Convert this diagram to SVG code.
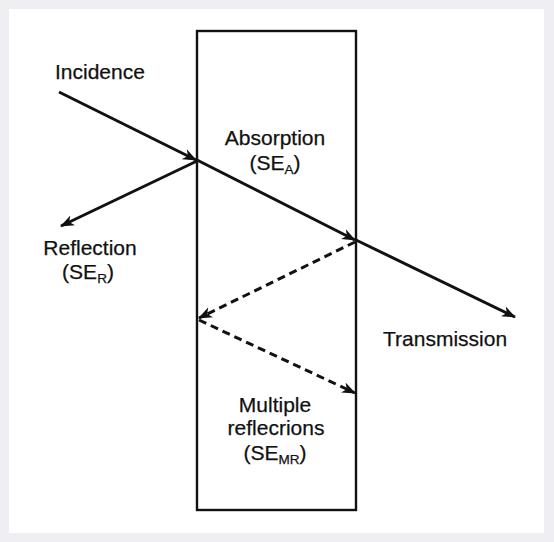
<svg xmlns="http://www.w3.org/2000/svg" width="554" height="542" viewBox="0 0 554 542">
<style>
text{font-family:"Liberation Sans",Arial,sans-serif;font-size:21px;fill:#111;stroke:#111;stroke-width:0.25}
.sub{font-size:13.5px}
.ray{stroke:#111;stroke-width:3;fill:none}
.dash{stroke-dasharray:8 5}
</style>
<defs>
<marker id="ah" viewBox="0 0 14 12" refX="13" refY="6" markerWidth="14" markerHeight="12" markerUnits="userSpaceOnUse" orient="auto">
<path d="M0,0.5 L14,6 L0,11.5 L4,6 z" fill="#111"/>
</marker>
</defs>
<rect x="0" y="0" width="554" height="542" fill="#eeeef3"/>
<rect x="9" y="9" width="535" height="524" fill="#ffffff"/>
<g id="slab"><rect x="197" y="31" width="159" height="479" fill="none" stroke="#111" stroke-width="2.4"/></g>
<g id="connectors">
<line class="ray" x1="59" y1="92" x2="196" y2="160" marker-end="url(#ah)"/>
<line class="ray" x1="197" y1="160" x2="355" y2="240" marker-end="url(#ah)"/>
<line class="ray" x1="356" y1="240" x2="515" y2="317" marker-end="url(#ah)"/>
<line class="ray" x1="197" y1="161" x2="61" y2="226" marker-end="url(#ah)"/>
<line class="ray dash" x1="355" y1="242" x2="199" y2="318" marker-end="url(#ah)"/>
<line class="ray dash" x1="199" y1="320" x2="355" y2="393" marker-end="url(#ah)"/>
</g>
<g id="incidence"><text x="55" y="79">Incidence</text></g>
<g id="absorption"><text x="275" y="145" text-anchor="middle">Absorption</text><text x="275" y="170" text-anchor="middle">(SE<tspan class="sub" dy="4">A</tspan><tspan dy="-4">)</tspan></text></g>
<g id="reflection"><text x="90" y="255" text-anchor="middle">Reflection</text><text x="88" y="279" text-anchor="middle">(SE<tspan class="sub" dy="4">R</tspan><tspan dy="-4">)</tspan></text></g>
<g id="transmission"><text x="383" y="346">Transmission</text></g>
<g id="multiple"><text x="275" y="412" text-anchor="middle">Multiple</text><text x="276" y="435" text-anchor="middle">reflecrions</text><text x="275" y="460" text-anchor="middle">(SE<tspan class="sub" dy="4">MR</tspan><tspan dy="-4">)</tspan></text></g>
</svg>
